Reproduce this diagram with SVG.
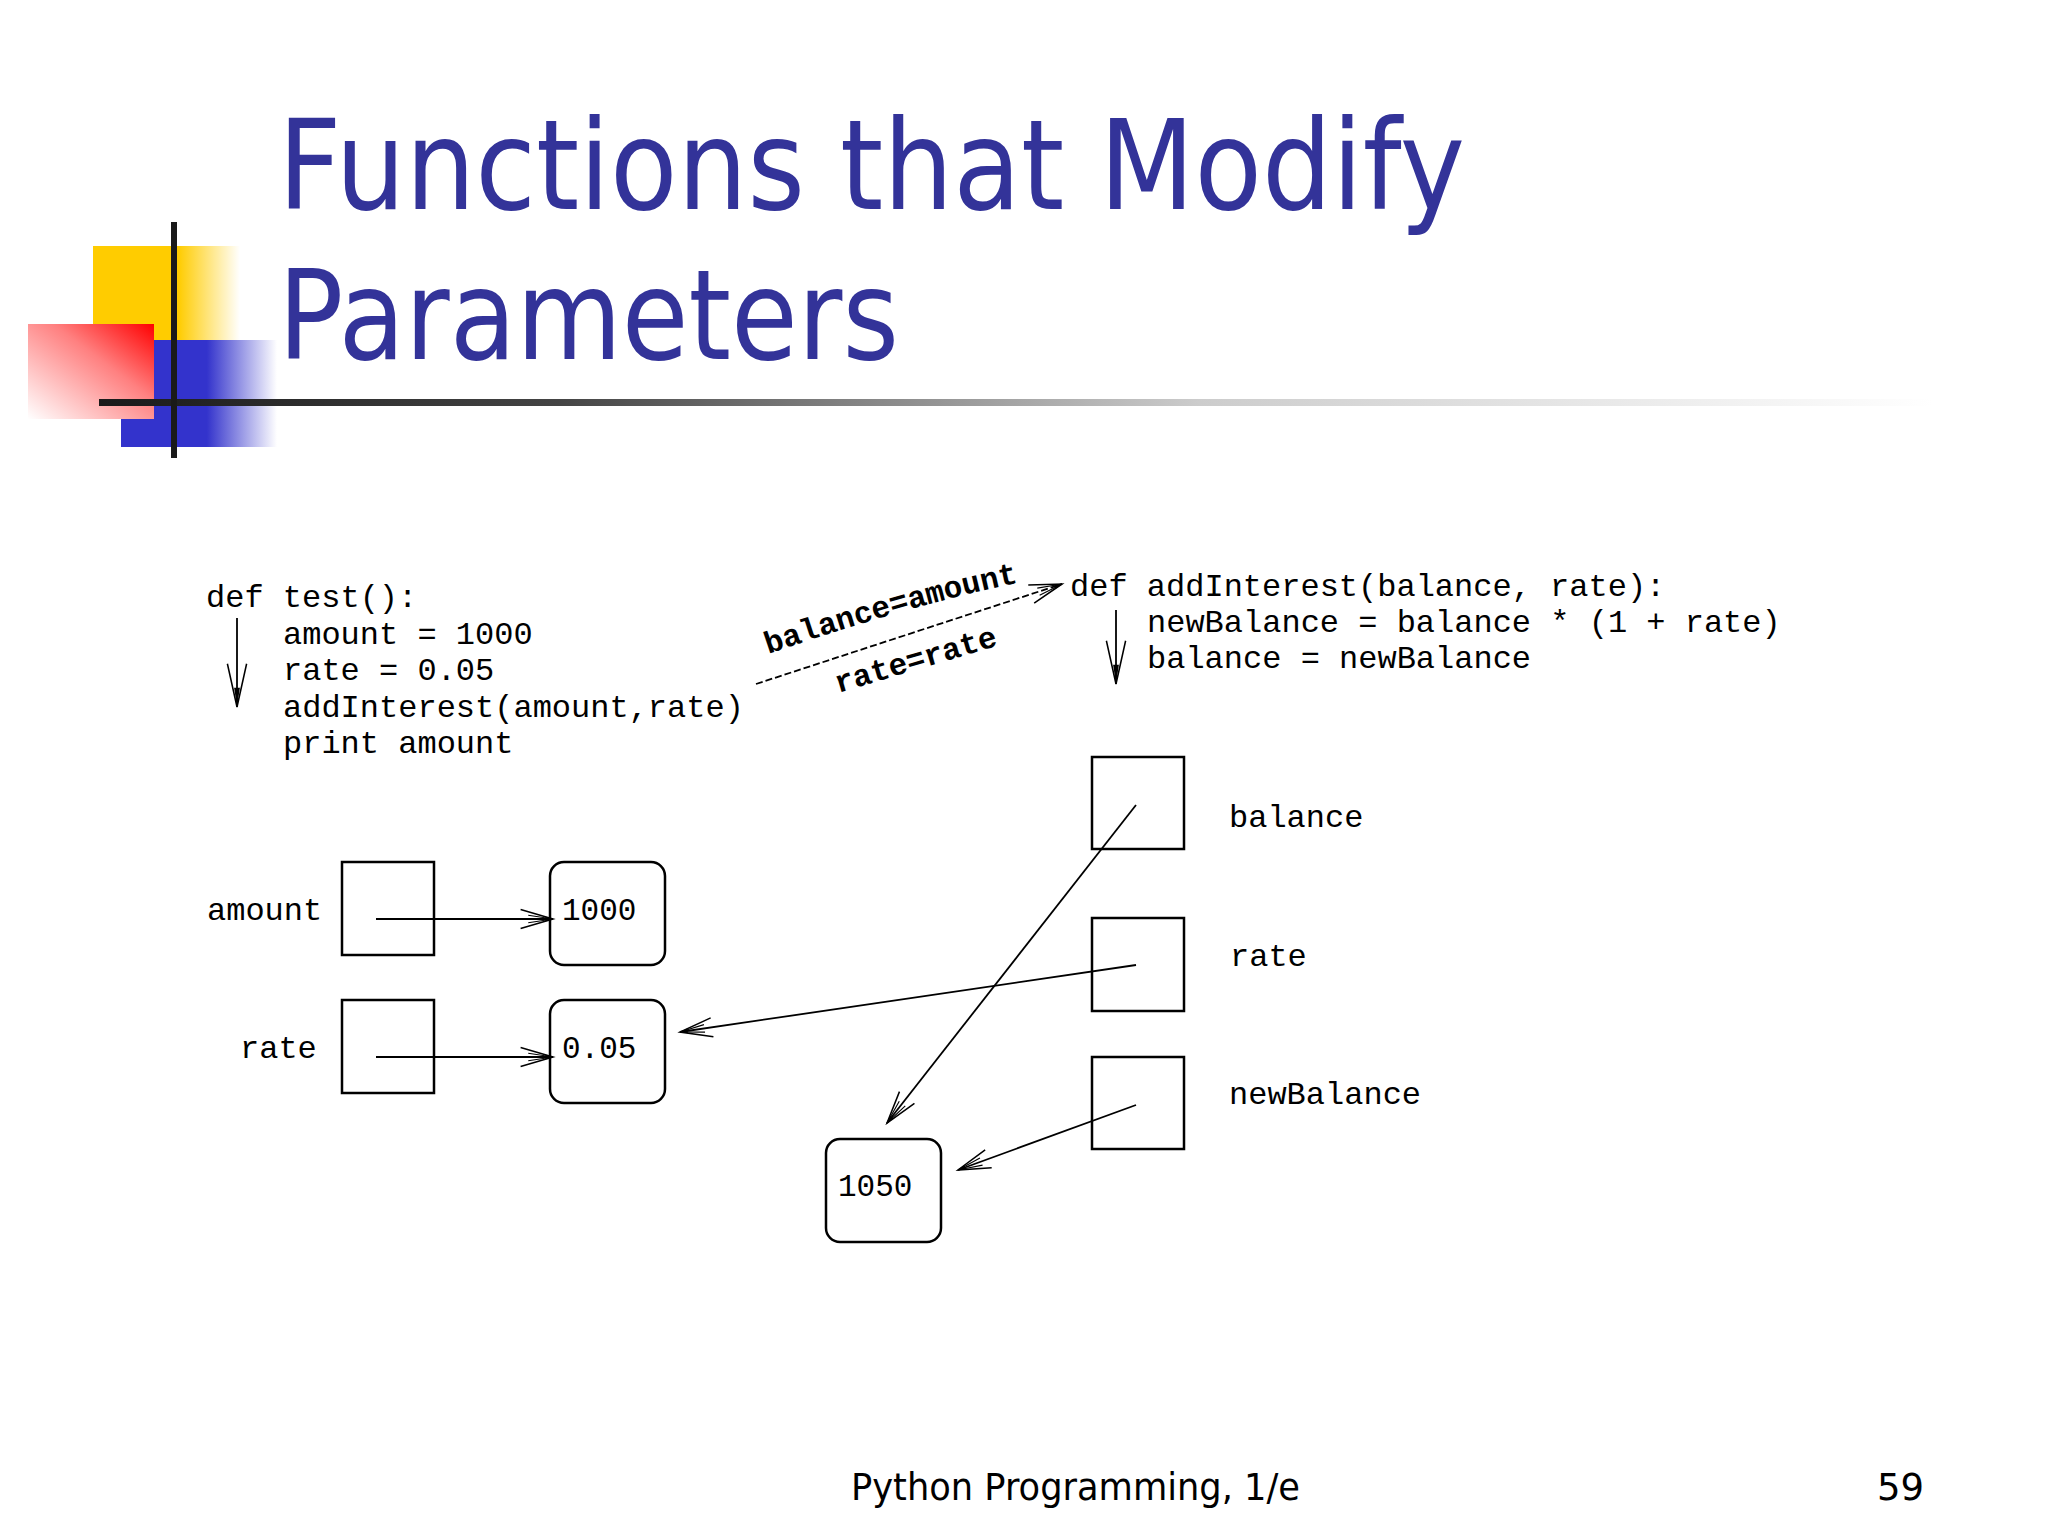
<svg xmlns="http://www.w3.org/2000/svg" width="2048" height="1536" viewBox="0 0 2048 1536">
<defs>
<linearGradient id="gYellow" x1="0" y1="0" x2="1" y2="0">
<stop offset="0" stop-color="#FFCC00"/><stop offset="0.58" stop-color="#FFCC00"/><stop offset="1" stop-color="#FFCC00" stop-opacity="0"/>
</linearGradient>
<linearGradient id="gBlue" x1="0" y1="0" x2="1" y2="0">
<stop offset="0" stop-color="#3333CC"/><stop offset="0.55" stop-color="#3333CC"/><stop offset="1" stop-color="#3333CC" stop-opacity="0"/>
</linearGradient>
<linearGradient id="gRed" x1="1" y1="0" x2="0" y2="1">
<stop offset="0" stop-color="#FF0000"/><stop offset="0.4" stop-color="#FF8080"/><stop offset="1" stop-color="#FFFFFF"/>
</linearGradient>
<linearGradient id="gRule" gradientUnits="userSpaceOnUse" x1="99" y1="0" x2="1933" y2="0">
<stop offset="0" stop-color="#1a1a1a"/><stop offset="0.25" stop-color="#444444"/><stop offset="0.6" stop-color="#cccccc"/><stop offset="1" stop-color="#ffffff"/>
</linearGradient>
<marker id="arr" markerUnits="userSpaceOnUse" orient="auto" refX="0" refY="0" markerWidth="40" markerHeight="30" viewBox="-40 -15 42 30" overflow="visible">
<path d="M-34,-10 L0,0 L-34,10" fill="none" stroke="#000" stroke-width="1.6"/>
<path d="M-26,-4 L0,0 L-26,4" fill="none" stroke="#000" stroke-width="1.2"/>
<path d="M-8,-2.5 L0,0 L-8,2.5 Z" fill="#000"/>
</marker>
<marker id="flow" markerUnits="userSpaceOnUse" orient="auto" refX="0" refY="0" markerWidth="50" markerHeight="30" viewBox="-50 -15 52 30" overflow="visible">
<path d="M-45,-10 L0,0 L-45,10" fill="none" stroke="#000" stroke-width="1.6"/>
<path d="M-20,-3 L0,0 L-20,3 Z" fill="#000"/>
</marker>
<path id="pBal" d="M 768 654 Q 923 601 1032 580"/>
<path id="pRate" d="M 838 693 L 1010 642"/>
</defs>
<style>
.title{font-family:"DejaVu Sans","Noto Sans",sans-serif;font-size:125px;fill:#333399}
.foot{font-family:"DejaVu Sans","Noto Sans",sans-serif;font-size:37px;fill:#000}
.code{font-family:"Liberation Mono","DejaVu Sans Mono",monospace;font-size:32px;fill:#000}
.lbl{font-family:"Liberation Mono","DejaVu Sans Mono",monospace;font-size:31px;fill:#000;font-weight:bold}
.val{font-family:"Liberation Mono","DejaVu Sans Mono",monospace;font-size:31px;fill:#000}
.box{fill:none;stroke:#000;stroke-width:2.5}
.ln{fill:none;stroke:#000;stroke-width:1.8}
</style>
<rect width="2048" height="1536" fill="#fff"/>
<g id="logo">
<rect x="93" y="246" width="147" height="94" fill="url(#gYellow)"/>
<rect x="121" y="340" width="156" height="107" fill="url(#gBlue)"/>
<rect x="28" y="324" width="126" height="95" fill="url(#gRed)"/>
<rect x="99" y="399" width="1834" height="7" fill="url(#gRule)"/>
<rect x="171" y="222" width="6" height="236" fill="#1a1a1a"/>
</g>
<g id="title">
<text class="title" x="278" y="209" textLength="1187" lengthAdjust="spacingAndGlyphs">Functions that Modify</text>
<text class="title" x="278" y="359" textLength="621" lengthAdjust="spacingAndGlyphs">Parameters</text>
</g>
<g id="code-test">
<text class="code" x="206" y="607">def test():</text>
<text class="code" x="283" y="644">amount = 1000</text>
<text class="code" x="283" y="680">rate = 0.05</text>
<text class="code" x="283" y="717">addInterest(amount,rate)</text>
<text class="code" x="283" y="753">print amount</text>
</g>
<g id="code-addInterest">
<text class="code" x="1070" y="596">def addInterest(balance, rate):</text>
<text class="code" x="1147" y="632">newBalance = balance * (1 + rate)</text>
<text class="code" x="1147" y="668">balance = newBalance</text>
</g>
<g id="call-labels">
<text class="lbl"><textPath href="#pBal">balance=amount</textPath></text>
<text class="lbl"><textPath href="#pRate">rate=rate</textPath></text>
</g>
<g id="node-amount">
<text class="code" x="207" y="920">amount</text>
<rect class="box" x="342" y="862" width="92" height="93"/>
</g>
<g id="node-rate">
<text class="code" x="240" y="1058">rate</text>
<rect class="box" x="342" y="1000" width="92" height="93"/>
</g>
<g id="node-1000">
<rect class="box" x="550" y="862" width="115" height="103" rx="14"/>
<text class="val" x="562" y="920">1000</text>
</g>
<g id="node-005">
<rect class="box" x="550" y="1000" width="115" height="103" rx="14"/>
<text class="val" x="562" y="1058">0.05</text>
</g>
<g id="node-balance">
<rect class="box" x="1092" y="757" width="92" height="92"/>
<text class="code" x="1229" y="827">balance</text>
</g>
<g id="node-rate2">
<rect class="box" x="1092" y="918" width="92" height="93"/>
<text class="code" x="1230" y="966">rate</text>
</g>
<g id="node-newBalance">
<rect class="box" x="1092" y="1057" width="92" height="92"/>
<text class="code" x="1229" y="1104">newBalance</text>
</g>
<g id="node-1050">
<rect class="box" x="826" y="1139" width="115" height="103" rx="14"/>
<text class="val" x="838" y="1196">1050</text>
</g>
<g id="connectors">
<line class="ln" x1="237" y1="618" x2="237" y2="707" marker-end="url(#flow)"/>
<line class="ln" x1="1116" y1="610" x2="1116" y2="684" marker-end="url(#flow)"/>
<line class="ln" x1="756" y1="684" x2="1062" y2="584" stroke-dasharray="7 3" marker-end="url(#arr)"/>
<line class="ln" x1="376" y1="919" x2="553" y2="919" marker-end="url(#arr)"/>
<line class="ln" x1="376" y1="1057" x2="553" y2="1057" marker-end="url(#arr)"/>
<line class="ln" x1="1136" y1="805" x2="887" y2="1123" stroke-width="1.4" marker-end="url(#arr)"/>
<line class="ln" x1="1136" y1="965" x2="680" y2="1032" stroke-width="2.2" marker-end="url(#arr)"/>
<line class="ln" x1="1136" y1="1105" x2="958" y2="1170" marker-end="url(#arr)"/>
</g>
<g id="footer">
<text class="foot" x="851" y="1500" textLength="449" lengthAdjust="spacingAndGlyphs">Python Programming, 1/e</text>
<text class="foot" x="1924" y="1500" text-anchor="end">59</text>
</g>
</svg>
